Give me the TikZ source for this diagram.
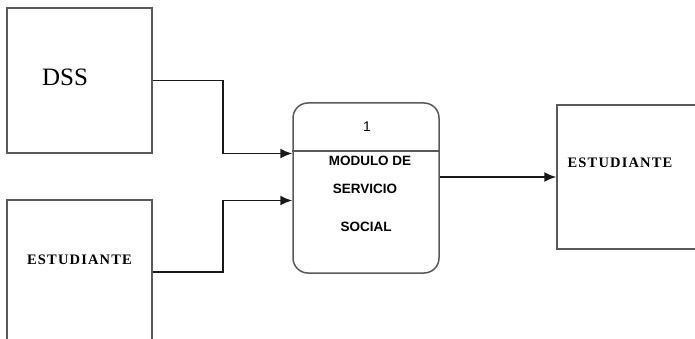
\documentclass[tikz,border=0pt]{standalone}
\usepackage{fontspec}
\setmainfont{Liberation Serif}
\setsansfont{Liberation Sans}
\newfontfamily\espaciada[LetterSpace=8]{Liberation Serif}
\usetikzlibrary{positioning,calc,arrows.meta}
\tikzset{
  entidad/.style={draw=black!65, line width=1.5pt, inner sep=0pt},
  proceso/.style={draw=black!65, line width=1.5pt, rounded corners=15pt,
    minimum width=146pt, minimum height=170pt},
  flujo/.style={draw=black!90, line width=1.6pt, -{Latex[length=12pt,width=10pt]}},
  nombre/.style={font=\espaciada\bfseries\fontsize{14.5}{16}\selectfont},
  texto/.style={font=\sffamily\bfseries\fontsize{13.5}{15}\selectfont}
}
\begin{document}
\begin{tikzpicture}[x=1pt,y=-1pt]
\useasboundingbox (0,0) rectangle (695,339);
\clip (0,0) rectangle (695,339);
\fill[white] (0,0) rectangle (695,339);

% entidades externas
\node[entidad, minimum width=145pt, minimum height=145pt,
  font=\fontsize{25}{28}\selectfont] (dss) at (79.5,80.5) {};
\node (dsstxt) at (65,77) [font=\fontsize{25}{28}\selectfont] {DSS};
\node[entidad, minimum width=145pt, minimum height=240pt] (est1) at (79.5,320) {};
\node[nombre] (est1txt) at (79.5,260) {ESTUDIANTE};
\node[entidad, minimum width=243pt, minimum height=144pt] (est2) at (678.5,177) {};
\node[nombre] (est2txt) at (620,163) {ESTUDIANTE};

% proceso
\node[proceso] (proc) at (366,188) {};
\draw[draw=black!65, line width=1.5pt] ([yshift=37pt]proc.west) -- ([yshift=37pt]proc.east);
\node[font=\sffamily\fontsize{14}{16}\selectfont] (num) at (367,127) {1};
\node[texto] (mod) at (370,161) {MODULO DE};
\node[texto] (serv) at (365,189) {SERVICIO};
\node[texto] (soc) at (366,227) {SOCIAL};

% flujos
\draw[flujo] (dss.east) -- ++(70,0) |- ([yshift=34.5pt]proc.west);
\draw[flujo] ([yshift=48pt]est1.east) -- ++(70,0) |- ([yshift=-12.5pt]proc.west);
\draw[flujo] (proc.east |- est2.west) -- (est2.west);
\end{tikzpicture}
\end{document}
